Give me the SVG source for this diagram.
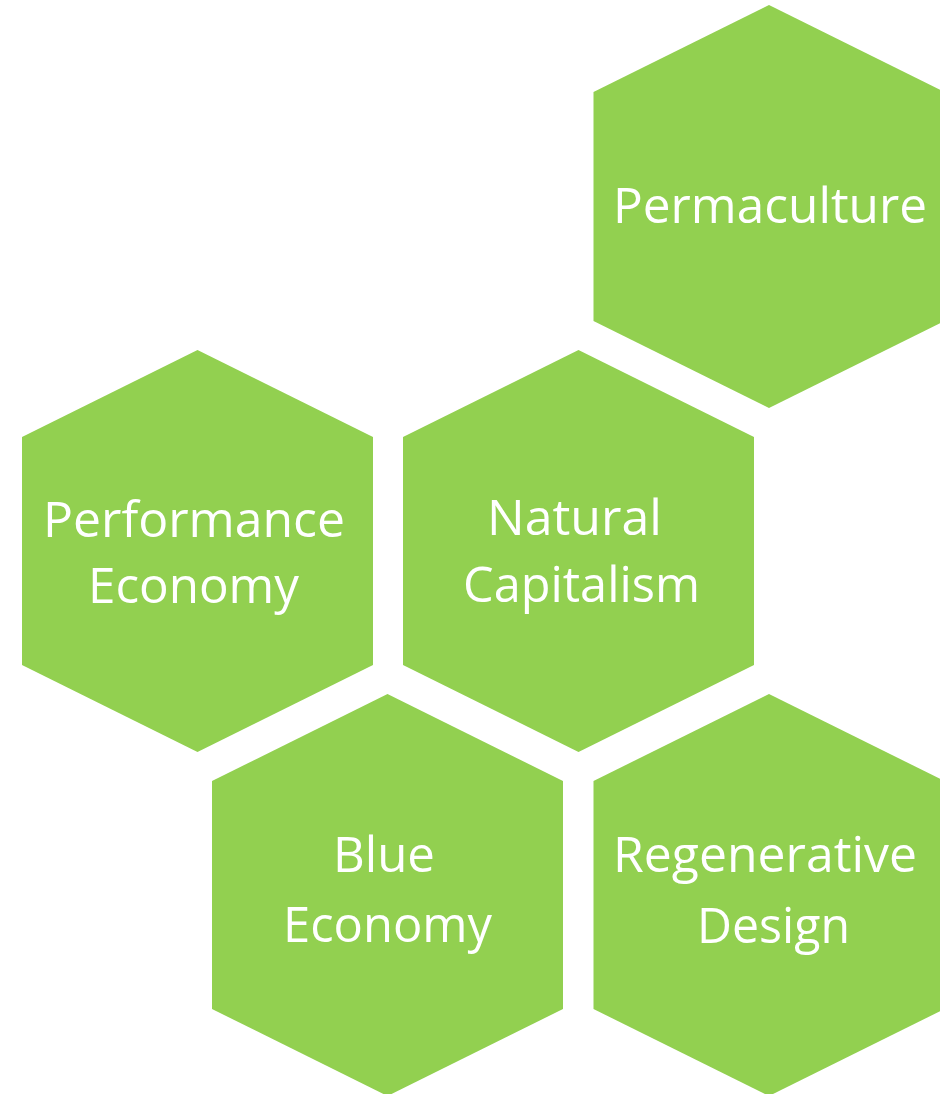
<svg xmlns="http://www.w3.org/2000/svg" width="940" height="1094" viewBox="0 0 940 1094">
<style>
.hex{fill:#92D050;}
.t{fill:#FFFFFF;font-family:"Open Sans","Noto Sans",sans-serif;font-size:49px;text-anchor:middle;}
</style>
<rect width="940" height="1094" fill="#FFFFFF"/>
<g id="permaculture">
<polygon class="hex" points="769,5 944.5,92 944.5,321 769,408 593.5,321 593.5,92"/>
<text class="t" x="770" y="222.5" textLength="314" lengthAdjust="spacingAndGlyphs">Permaculture</text>
</g>
<g id="performance-economy">
<polygon class="hex" points="197.5,350 373,437 373,665 197.5,752 22,665 22,437"/>
<text class="t" x="194" y="537" textLength="302" lengthAdjust="spacingAndGlyphs">Performance</text>
<text class="t" x="193.5" y="602.5" textLength="211" lengthAdjust="spacingAndGlyphs">Economy</text>
</g>
<g id="natural-capitalism">
<polygon class="hex" points="578.5,350 754,437 754,665 578.5,752 403,665 403,437"/>
<text class="t" x="574.5" y="535" textLength="175" lengthAdjust="spacingAndGlyphs">Natural</text>
<text class="t" x="581.5" y="602" textLength="237" lengthAdjust="spacingAndGlyphs">Capitalism</text>
</g>
<g id="blue-economy">
<polygon class="hex" points="387.5,694 563,781 563,1009 387.5,1096 212,1009 212,781"/>
<text class="t" x="384" y="871.7" textLength="102" lengthAdjust="spacingAndGlyphs">Blue</text>
<text class="t" x="387.5" y="941.7" textLength="209" lengthAdjust="spacingAndGlyphs">Economy</text>
</g>
<g id="regenerative-design">
<polygon class="hex" points="769,694 944.5,781 944.5,1009 769,1096 593.5,1009 593.5,781"/>
<text class="t" x="765" y="871.7" textLength="304" lengthAdjust="spacingAndGlyphs">Regenerative</text>
<text class="t" x="773.5" y="943" textLength="153" lengthAdjust="spacingAndGlyphs">Design</text>
</g>
<g id="connectors"/>
</svg>
